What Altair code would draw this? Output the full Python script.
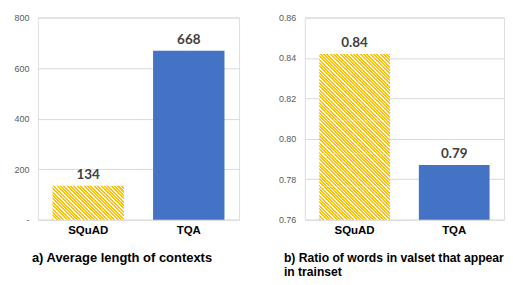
import math
import altair as alt
import pandas as pd

# ---- data ----
datasets = ["SQuAD", "TQA"]
avg_context_length = [134, 668]
ratio_words_in_trainset = [0.842, 0.787]

left_ticks = [0, 200, 400, 600, 800]
right_ticks = [0.76, 0.78, 0.80, 0.82, 0.84, 0.86]

title_a = "a)  Average length of contexts"
title_b = ["b) Ratio of words in valset that appear", "in trainset"]

YELLOW = "#FFC000"
BLUE = "#4472C4"
PLOT_H = 203
FONT = "Liberation Sans"


def hatch(w, h, target=3.3, frac=0.6):
    """45-degree yellow/white stripes drawn as a linear gradient over a w x h box."""
    m = max(1, round(h / target))
    period = h / m                      # whole stripes per segment height -> seamless stacking
    span = w + h
    r = w / h
    q = (r + 1) / (r * r + 1)
    p = r * q
    stops = []
    s = 0.0
    while s < span:
        a = s / span
        mid = min(1.0, (s + frac * period) / span)
        b = min(1.0, (s + period) / span)
        stops += [
            alt.GradientStop(offset=a, color=YELLOW),
            alt.GradientStop(offset=mid, color=YELLOW),
            alt.GradientStop(offset=mid, color="#ffffff"),
            alt.GradientStop(offset=b, color="#ffffff"),
        ]
        s += period
    return alt.LinearGradient(gradient="linear", x1=0, y1=1, x2=p, y2=1 - q, stops=stops)


def panel(values, domain, ticks, width, title, dx, fmt, label_expr, tsize):
    lo, hi = domain
    df = pd.DataFrame({"dataset": datasets, "value": values})
    bar_w = width / 2 * 0.71
    sq_px = (values[0] - lo) / (hi - lo) * PLOT_H
    k = max(1, math.ceil(sq_px / 38))
    seg_h = sq_px / k
    step = (values[0] - lo) / k
    seg = pd.DataFrame({
        "dataset": [datasets[0]] * k,
        "seg_lo": [lo + i * step for i in range(k)],
        "seg_hi": [lo + (i + 1) * step for i in range(k)],
    })
    x = alt.X(
        "dataset:N",
        sort=datasets,
        scale=alt.Scale(domain=datasets, paddingInner=0.29, paddingOuter=0.145),
        axis=alt.Axis(
            title=None, labelAngle=0, domain=False, ticks=False,
            labelFont=FONT, labelFontWeight="bold",
            labelFontSize=11.5, labelColor="#000000", labelPadding=5,
        ),
    )
    yax = dict(
        title=None, domain=False, ticks=False, values=ticks,
        gridColor="#d9d9d9", gridWidth=1,
        labelFont=FONT, labelFontSize=9, labelColor="#595959",
        labelPadding=9, format=fmt,
    )
    if label_expr:
        yax["labelExpr"] = label_expr
    yscale = alt.Scale(domain=list(domain), zero=False, nice=False, clamp=True)
    y = alt.Y("value:Q", stack=None, scale=yscale, axis=alt.Axis(**yax))

    bar_sq = alt.Chart(seg).mark_bar(fill=hatch(bar_w, seg_h)).encode(
        x=x,
        y=alt.Y("seg_hi:Q", stack=None, scale=yscale, axis=alt.Axis(**yax)),
        y2="seg_lo:Q",
    )
    base = alt.Chart(df).encode(x=x)
    bar_tq = base.transform_filter(alt.datum.dataset == datasets[1]).mark_bar(
        fill=BLUE
    ).encode(y=y)
    txt = base.mark_text(
        baseline="bottom", dy=-4, font="Lato", fontWeight="bold",
        fontSize=13.5, color="#404040",
    ).encode(y=y, text=alt.Text("value:Q", format=fmt))
    return alt.layer(bar_sq, bar_tq, txt).properties(
        width=width, height=PLOT_H,
        title=alt.TitleParams(
            text=title, orient="bottom", anchor="start", frame="group", dx=dx,
            offset=16, font=FONT, fontSize=tsize, fontWeight="bold",
            color="#000000", lineHeight=14,
        ),
    )


left = panel(avg_context_length, (0, 800), left_ticks, 202, title_a, -6, "d",
             "datum.value == 0 ? '-' : datum.label", 13)
right = panel(ratio_words_in_trainset, (0.76, 0.86), right_ticks, 200, title_b, -21,
              ".2f", None, 12.2)

chart = alt.hconcat(left, right, spacing=37).properties(
    padding={"left": 5, "top": 4, "right": 0, "bottom": 0}
).configure_view(stroke=None).configure(background="#ffffff")

chart.save("out.html", embed_options={"renderer": "svg", "actions": False})
